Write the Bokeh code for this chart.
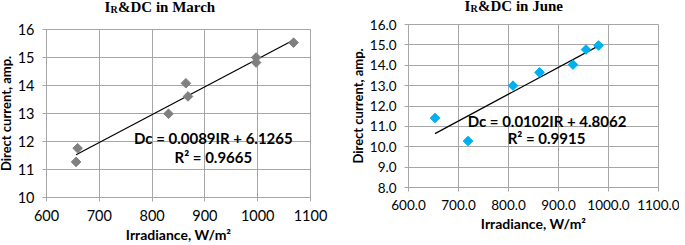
import numpy as np
from bokeh.plotting import figure
from bokeh.layouts import row, column
from bokeh.models import FixedTicker, PrintfTickFormatter, Label, ColumnDataSource, Range1d
from bokeh.embed import file_html
from bokeh.resources import INLINE

# ---- data ----
march_ir = [656, 659, 831, 864, 868, 997, 997, 1068]
march_dc = [11.27, 11.76, 12.99, 14.08, 13.61, 15.00, 14.82, 15.53]
june_ir = [653, 719, 809, 862, 929, 955, 980]
june_dc = [11.41, 10.28, 13.00, 13.65, 14.03, 14.77, 14.97]

march_x_ticks = [600, 700, 800, 900, 1000, 1100]
march_y_ticks = [10, 11, 12, 13, 14, 15, 16]
june_x_ticks = [600, 700, 800, 900, 1000, 1100]
june_y_ticks = [8, 9, 10, 11, 12, 13, 14, 15, 16]

march_eq = ["Dc = 0.0089IR + 6.1265", "R\u00b2 = 0.9665"]
june_eq = ["Dc = 0.0102IR + 4.8062", "R\u00b2 = 0.9915"]
march_title = ["I", "R", "&DC in March"]
june_title = ["I", "R", "&DC in June"]
x_label = "Irradiance, W/m\u00b2"
y_label = "Direct current, amp."

GRID = "#a6a6a6"
FONT = "Lato"
SERIF = "Liberation Serif"


def make_chart(xs, ys, xt, yt, fmt, color, eq, eq_pos,
               w, h, bl, br, bt, bb, tick_size):
    p = figure(width=w, height=h, min_border_left=bl, min_border_right=br,
               min_border_top=bt, min_border_bottom=bb, title=None, frame_align=False,
               x_range=Range1d(xt[0], xt[-1]), y_range=Range1d(yt[0], yt[-1]),
               output_backend="svg", toolbar_location=None, tools="")
    p.background_fill_color = "white"
    p.border_fill_color = "white"
    p.outline_line_color = GRID
    p.outline_line_width = 1
    for ax, ticks in ((p.xaxis, xt), (p.yaxis, yt)):
        ax.ticker = FixedTicker(ticks=ticks)
        ax.formatter = PrintfTickFormatter(format=fmt)
        ax.axis_line_color = GRID
        ax.major_tick_line_color = GRID
        ax.major_tick_in = 0
        ax.major_tick_out = 4
        ax.minor_tick_line_color = None
        ax.major_label_text_font = FONT
        ax.major_label_text_font_size = tick_size
        ax.major_label_text_color = "black"
        ax.axis_label_text_font = FONT
        ax.axis_label_text_font_style = "bold"
        ax.axis_label_text_color = "black"
    p.xaxis.axis_label_text_font_size = "14px"
    p.yaxis.axis_label_text_font_size = "13px"
    p.xaxis.major_label_standoff = 8
    p.yaxis.major_label_standoff = 8
    p.xaxis.axis_label = x_label
    p.yaxis.axis_label = y_label
    p.xaxis.axis_label_standoff = 2
    p.yaxis.axis_label_standoff = 1
    p.xgrid.ticker = FixedTicker(ticks=xt)
    p.ygrid.ticker = FixedTicker(ticks=yt)
    p.xgrid.grid_line_color = GRID
    p.ygrid.grid_line_color = GRID

    # trend line: least-squares fit of the series
    k, b = np.polyfit(xs, ys, 1)
    tx = [min(xs), max(xs)]
    p.line(tx, [k * v + b for v in tx], line_color="black", line_width=1.2)

    src = ColumnDataSource(dict(x=xs, y=ys))
    p.scatter("x", "y", source=src, marker="square", angle=np.pi / 4, size=6.8,
              fill_color=color, line_color=color)

    for txt, (ex, ey) in zip(eq, eq_pos):
        p.add_layout(Label(x=ex, y=ey, text=txt, text_font=FONT, text_font_style="bold",
                           text_font_size="15px", text_align="center",
                           text_baseline="middle", text_color="black"))
    return p


def make_title(title, w, h, pos):
    tf = figure(width=w, height=h, min_border=0, title=None, frame_align=False,
                x_axis_type=None, y_axis_type=None, x_range=Range1d(0, w),
                y_range=Range1d(0, h), output_backend="svg",
                toolbar_location=None, tools="")
    tf.outline_line_color = None
    tf.xgrid.visible = False
    tf.ygrid.visible = False
    sizes = ["15px", "10px", "15px"]
    for txt, (lx, ly), fs in zip(title, pos, sizes):
        tf.add_layout(Label(x=lx, y=ly, x_units="screen", y_units="screen", text=txt,
                            text_font=SERIF, text_font_style="bold", text_font_size=fs,
                            text_baseline="alphabetic", text_color="black"))
    return tf


T1, T2 = 20, 15
t1 = make_title(march_title, 340, T1, [(110, 14), (116, 11.5), (123.5, 14)])
t2 = make_title(june_title, 345, T2, [(130, 10), (136, 7.5), (143.5, 10)])

p1 = make_chart(march_ir, march_dc, march_x_ticks, march_y_ticks, "%d", "#808080",
                march_eq, [(916, 12.14), (916, 11.46)],
                w=340, h=245 - T1, bl=49, br=24, bt=29 - T1, bb=48,
                tick_size="14.5px")
p2 = make_chart(june_ir, june_dc, june_x_ticks, june_y_ticks, "%.1f", "#00b0f0",
                june_eq, [(877, 11.28), (876, 10.41)],
                w=345, h=245 - T2, bl=74, br=21, bt=24 - T2, bb=58,
                tick_size="13.5px")

layout = row(column(t1, p1), column(t2, p2), styles={"margin-left": "-6px"})
open("out.html", "w").write(file_html(layout, INLINE))
